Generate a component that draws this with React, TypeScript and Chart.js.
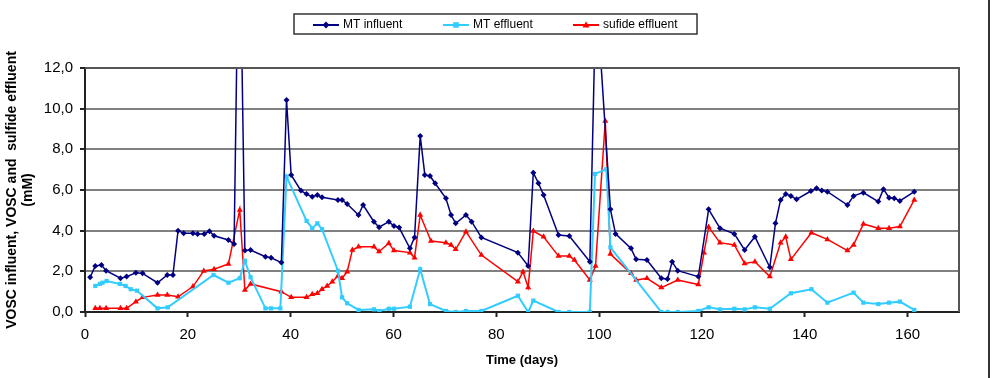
import React, { useEffect, useRef } from "react";
import { Chart, registerables } from "chart.js";

Chart.register(...registerables);

const FONT = 'Arial, "Liberation Sans", sans-serif';

const seriesNames = ["MT influent", "MT effluent", "sufide effluent"];
const seriesColors = ["#000080", "#33CCFF", "#FF0000"];

const influentDays = [1, 2, 3.2, 4.1, 6.9, 8.1, 9.9, 11.2, 14.1, 16, 17.1, 18.1, 19.2, 21, 21.9, 23.2, 24.2, 25.1, 27.9, 29, 30, 31.1, 32.2, 35.1, 36.2, 38.2, 39.2, 40.1, 42, 43.1, 44.2, 45.2, 46.1, 49.2, 50, 51, 53.2, 54.1, 56.2, 57.2, 59.1, 60.1, 61.1, 63.2, 64.1, 65.2, 66.1, 67.1, 68.1, 70.2, 71.2, 72.1, 74.1, 75.2, 77.1, 84.2, 86.2, 87.2, 88.2, 89.2, 92.1, 94.2, 98.2, 99.4, 102.2, 103.2, 106.2, 107.2, 109.3, 112.1, 113.3, 114.2, 115.3, 119.3, 121.3, 123.5, 126.3, 128.3, 130.3, 133.2, 134.3, 135.3, 136.3, 137.3, 138.4, 141.2, 142.3, 143.3, 144.4, 148.3, 149.5, 151.4, 154.3, 155.3, 156.4, 157.4, 158.5, 161.3];
const influentValues = [1.71, 2.26, 2.31, 2.03, 1.66, 1.74, 1.93, 1.9, 1.44, 1.82, 1.82, 4.0, 3.87, 3.87, 3.84, 3.84, 3.97, 3.75, 3.54, 3.34, 21, 3.02, 3.05, 2.72, 2.67, 2.43, 10.43, 6.74, 5.97, 5.8, 5.67, 5.75, 5.64, 5.51, 5.51, 5.31, 4.77, 5.26, 4.44, 4.17, 4.44, 4.23, 4.15, 3.13, 3.67, 8.66, 6.74, 6.69, 6.33, 5.59, 4.77, 4.36, 4.77, 4.44, 3.67, 2.92, 2.26, 6.85, 6.33, 5.75, 3.79, 3.74, 2.47, 16, 5.05, 3.84, 3.13, 2.59, 2.56, 1.66, 1.62, 2.47, 2.03, 1.74, 5.05, 4.12, 3.84, 3.05, 3.7, 2.2, 4.36, 5.51, 5.8, 5.71, 5.54, 5.95, 6.08, 5.97, 5.92, 5.26, 5.71, 5.87, 5.43, 6.04, 5.62, 5.59, 5.46, 5.92];

const effluentDays = [2, 2.9, 3.4, 4.2, 6.8, 7.9, 8.9, 10.1, 14.1, 16.1, 25, 27.9, 30.1, 31.1, 32.2, 35.1, 36.2, 38, 39.2, 43.1, 44.2, 45.2, 46.1, 49.2, 50, 51, 53.2, 56.2, 57.2, 59.1, 60.1, 63.2, 65.2, 67.1, 70.2, 72.1, 74.1, 77.1, 84.2, 86.2, 87.2, 92.1, 94.2, 98.2, 99.2, 101.4, 102.2, 112.1, 113.3, 115.3, 119.3, 121.3, 123.5, 126.3, 128.3, 130.3, 133.2, 137.3, 141.3, 144.4, 149.5, 151.4, 154.3, 156.4, 158.5, 161.3];
const effluentValues = [1.28, 1.38, 1.44, 1.52, 1.38, 1.28, 1.12, 1.05, 0.18, 0.23, 1.82, 1.44, 1.66, 2.52, 1.71, 0.18, 0.18, 0.18, 6.66, 4.48, 4.12, 4.36, 4.07, 2.03, 0.72, 0.43, 0.1, 0.13, 0.05, 0.16, 0.16, 0.26, 2.1, 0.39, 0.05, 0.0, 0.05, 0.05, 0.8, 0.0, 0.56, 0.0, 0.0, 0.0, 6.79, 7.02, 3.18, 0.0, 0.0, 0.0, 0.05, 0.23, 0.13, 0.16, 0.13, 0.23, 0.16, 0.92, 1.12, 0.46, 0.95, 0.46, 0.39, 0.46, 0.51, 0.1];

const sulfideDays = [2, 2.9, 4.1, 6.9, 8.1, 9.9, 11.2, 14.1, 16, 18.1, 21, 23.1, 25.1, 27.9, 30.1, 31.1, 32.2, 38.2, 40.1, 43.1, 44.2, 45.2, 46.1, 47.1, 48.1, 49.2, 50, 51, 52, 53.2, 56.2, 57.2, 59.1, 60.1, 63.2, 64.1, 65.2, 67.3, 70.2, 71.2, 72.1, 74.1, 77.1, 84.2, 85.2, 86.2, 87.2, 89.2, 92.1, 94.2, 95.2, 98.2, 99.3, 101.2, 102.2, 106.2, 107.2, 109.3, 112.1, 115.3, 119.3, 120.4, 121.3, 123.5, 126.3, 128.3, 130.3, 133.2, 135.3, 136.3, 137.3, 141.3, 144.4, 148.3, 149.5, 151.4, 154.3, 156.4, 158.5, 161.3];
const sulfideValues = [0.18, 0.18, 0.18, 0.18, 0.18, 0.51, 0.72, 0.84, 0.84, 0.75, 1.25, 2.02, 2.1, 2.36, 5.02, 1.08, 1.38, 1.0, 0.72, 0.72, 0.87, 0.92, 1.12, 1.28, 1.49, 1.77, 1.66, 1.98, 3.05, 3.21, 3.21, 2.97, 3.38, 3.02, 2.92, 2.67, 4.77, 3.49, 3.41, 3.3, 3.08, 3.95, 2.8, 1.49, 1.98, 1.21, 3.98, 3.7, 2.75, 2.75, 2.56, 1.57, 2.26, 9.39, 2.85, 1.9, 1.57, 1.66, 1.2, 1.57, 1.35, 2.92, 4.18, 3.41, 3.3, 2.39, 2.47, 1.74, 3.41, 3.7, 2.59, 3.9, 3.57, 3.02, 3.3, 4.33, 4.12, 4.12, 4.2, 5.51];

const xTickStep = 20;
const yTickStep = 2;
const xMax = 170;
const yMax = 12;
const yTitle = ["VOSC influent, VOSC and  sulfide effluent", "(mM)"];
const xTitle = "Time (days)";

const toPoints = (xs: number[], ys: number[]) => xs.map((x, i) => ({ x, y: ys[i] }));

function drawMarker(ctx: CanvasRenderingContext2D, kind: string, x: number, y: number, r: number) {
  ctx.beginPath();
  if (kind === "diamond") {
    ctx.moveTo(x, y - r);
    ctx.lineTo(x + r, y);
    ctx.lineTo(x, y + r);
    ctx.lineTo(x - r, y);
  } else if (kind === "square") {
    ctx.rect(x - r * 0.8, y - r * 0.8, r * 1.6, r * 1.6);
  } else {
    ctx.moveTo(x, y - r);
    ctx.lineTo(x + r, y + r * 0.7);
    ctx.lineTo(x - r, y + r * 0.7);
  }
  ctx.closePath();
  ctx.fill();
}

const markerKinds = ["diamond", "square", "triangle"];

const decorPlugin = {
  id: "decor",
  afterDraw(chart: any) {
    const ctx: CanvasRenderingContext2D = chart.ctx;
    const a = chart.chartArea;
    ctx.save();
    // plot area right & top border
    ctx.strokeStyle = "#555";
    ctx.lineWidth = 2;
    ctx.beginPath();
    ctx.moveTo(a.left, a.top);
    ctx.lineTo(a.right, a.top);
    ctx.lineTo(a.right, a.bottom);
    ctx.stroke();
    // outer chart frame right edge
    ctx.strokeStyle = "#333";
    ctx.lineWidth = 2;
    ctx.beginPath();
    ctx.moveTo(989, 0);
    ctx.lineTo(989, chart.height);
    ctx.stroke();
    // legend
    const boxL = 294, boxT = 14, boxW = 403, boxH = 20;
    ctx.fillStyle = "#fff";
    ctx.fillRect(boxL, boxT, boxW, boxH);
    ctx.strokeStyle = "#333";
    ctx.lineWidth = 1.5;
    ctx.strokeRect(boxL, boxT, boxW, boxH);
    const cy = boxT + boxH / 2 + 1;
    const starts = [313, 443, 573];
    ctx.font = "12px " + FONT;
    ctx.textBaseline = "middle";
    ctx.textAlign = "left";
    seriesNames.forEach((name, i) => {
      const sx = starts[i];
      ctx.strokeStyle = seriesColors[i];
      ctx.fillStyle = seriesColors[i];
      ctx.lineWidth = 2;
      ctx.beginPath();
      ctx.moveTo(sx, cy);
      ctx.lineTo(sx + 26, cy);
      ctx.stroke();
      drawMarker(ctx, markerKinds[i], sx + 13, cy, 3.5);
      ctx.fillStyle = "#000";
      ctx.fillText(name, sx + 30, cy);
    });
    ctx.restore();
  },
};

export default function App() {
  const ref = useRef<HTMLCanvasElement | null>(null);
  useEffect(() => {
    document.body.style.margin = "0";
    if (!ref.current) return;
    Chart.defaults.font.family = FONT;
    const chart = new Chart(ref.current, {
      type: "line",
      data: {
        datasets: [
          {
            label: seriesNames[0],
            data: toPoints(influentDays, influentValues),
            borderColor: seriesColors[0],
            backgroundColor: seriesColors[0],
            borderWidth: 1.5,
            pointStyle: "rectRot",
            pointRadius: 3,
            pointBorderWidth: 0,
            tension: 0,
          },
          {
            label: seriesNames[1],
            data: toPoints(effluentDays, effluentValues),
            borderColor: seriesColors[1],
            backgroundColor: seriesColors[1],
            borderWidth: 2,
            pointStyle: "rect",
            pointRadius: 3,
            pointBorderWidth: 0,
            tension: 0,
          },
          {
            label: seriesNames[2],
            data: toPoints(sulfideDays, sulfideValues),
            borderColor: seriesColors[2],
            backgroundColor: seriesColors[2],
            borderWidth: 1.5,
            pointStyle: "triangle",
            pointRadius: 3.5,
            pointBorderWidth: 0,
            tension: 0,
          },
        ],
      },
      options: {
        animation: false,
        responsive: false,
        events: [],
        layout: { padding: { left: 0, top: 68, right: 34, bottom: 0 } },
        plugins: {
          legend: { display: false },
          tooltip: { enabled: false },
        },
        scales: {
          x: {
            type: "linear",
            min: 0,
            max: xMax,
            afterBuildTicks: (scale: any) => {
              scale.ticks = scale.ticks.filter((t: any) => t.value % xTickStep === 0);
            },
            afterFit: (scale: any) => {
              scale.height = 66;
            },
            ticks: { stepSize: xTickStep, color: "#000", font: { size: 15 }, padding: 9, maxRotation: 0 },
            grid: { drawOnChartArea: false, drawTicks: true, tickLength: 5, tickColor: "#222", tickWidth: 2 },
            border: { display: true, color: "#222", width: 2 },
            title: { display: true, text: xTitle, color: "#000", font: { size: 13, weight: "bold" }, padding: { top: 0, bottom: 10 } },
          },
          y: {
            min: 0,
            max: yMax,
            afterFit: (scale: any) => {
              scale.width = 85;
            },
            ticks: {
              stepSize: yTickStep,
              color: "#000",
              font: { size: 15 },
              padding: 7,
              callback: (v: any) => Number(v).toFixed(1).replace(".", ","),
            },
            grid: { color: "#808080", lineWidth: 2, tickLength: 5, tickColor: "#222", tickWidth: 2 },
            border: { display: true, color: "#222", width: 2 },
            title: { display: true, text: yTitle, color: "#000", font: { size: 14, weight: "bold", lineHeight: 1.15 }, padding: { top: 4, bottom: 0 } },
          },
        },
      } as any,
      plugins: [decorPlugin],
    });
    return () => chart.destroy();
  }, []);
  return (
    <div style={{ position: "absolute", left: 0, top: 0, width: 993, height: 378, background: "#fff" }}>
      <canvas ref={ref} width={993} height={378} style={{ display: "block" }} />
    </div>
  );
}
